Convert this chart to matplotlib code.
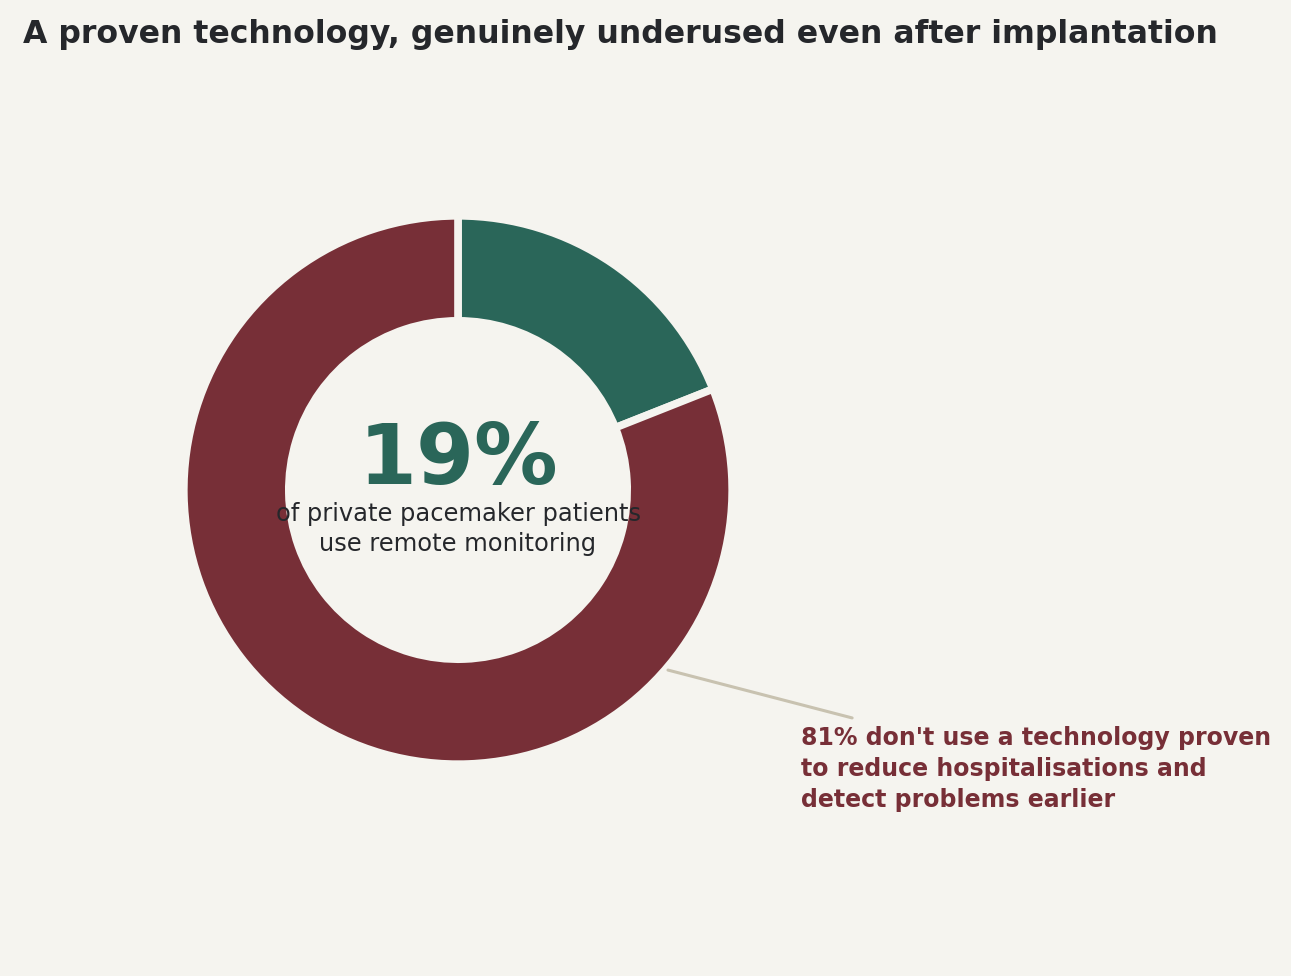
import matplotlib
matplotlib.use("Agg")
import matplotlib.pyplot as plt

labels = ["Use remote monitoring", "Don't use remote monitoring"]
values = [19, 81]
colors = ["#2A6659", "#772F37"]
title = "A proven technology, genuinely underused even after implantation"
center_big = "19%"
center_sub = "of private pacemaker patients\nuse remote monitoring"
callout = "81% don't use a technology proven\nto reduce hospitalisations and\ndetect problems earlier"

BG = "#F5F4EF"
W, H = 1291, 976
fig = plt.figure(figsize=(W / 100, H / 100), dpi=100, facecolor=BG)

cx, cy, R = 458, 490, 272
ax = fig.add_axes([(cx - R) / W, (H - cy - R) / H, 2 * R / W, 2 * R / H])
ax.set_facecolor(BG)
ax.pie(values, colors=colors, startangle=90, counterclock=False,
       radius=1.008, wedgeprops=dict(width=0.386, edgecolor=BG, linewidth=5.5))
ax.set_xlim(-1, 1)
ax.set_ylim(-1, 1)
ax.set_aspect("equal")
ax.axis("off")

ax.text(0, 0.11, center_big, ha="center", va="center", fontsize=60,
        fontweight="bold", color="#2A6659")
ax.text(0, -0.143, center_sub, ha="center", va="center", fontsize=17.4,
        color="#25272B", linespacing=1.32)

ax.annotate("", xy=(0.772, -0.662), xytext=(1.449, -0.838),
            arrowprops=dict(arrowstyle="-", color="#C8C2B0", lw=2.2,
                            shrinkA=0, shrinkB=0), annotation_clip=False)
ax.text(1.261, -0.868, callout, ha="left", va="top", fontsize=17,
        fontweight="bold", color="#772F37", linespacing=1.37, clip_on=False)

fig.text(23 / W, 1 - 34 / H, title, ha="left", va="center", fontsize=22.7,
         fontweight="bold", color="#25272B")

fig.savefig("out.png", dpi=100, facecolor=BG)
